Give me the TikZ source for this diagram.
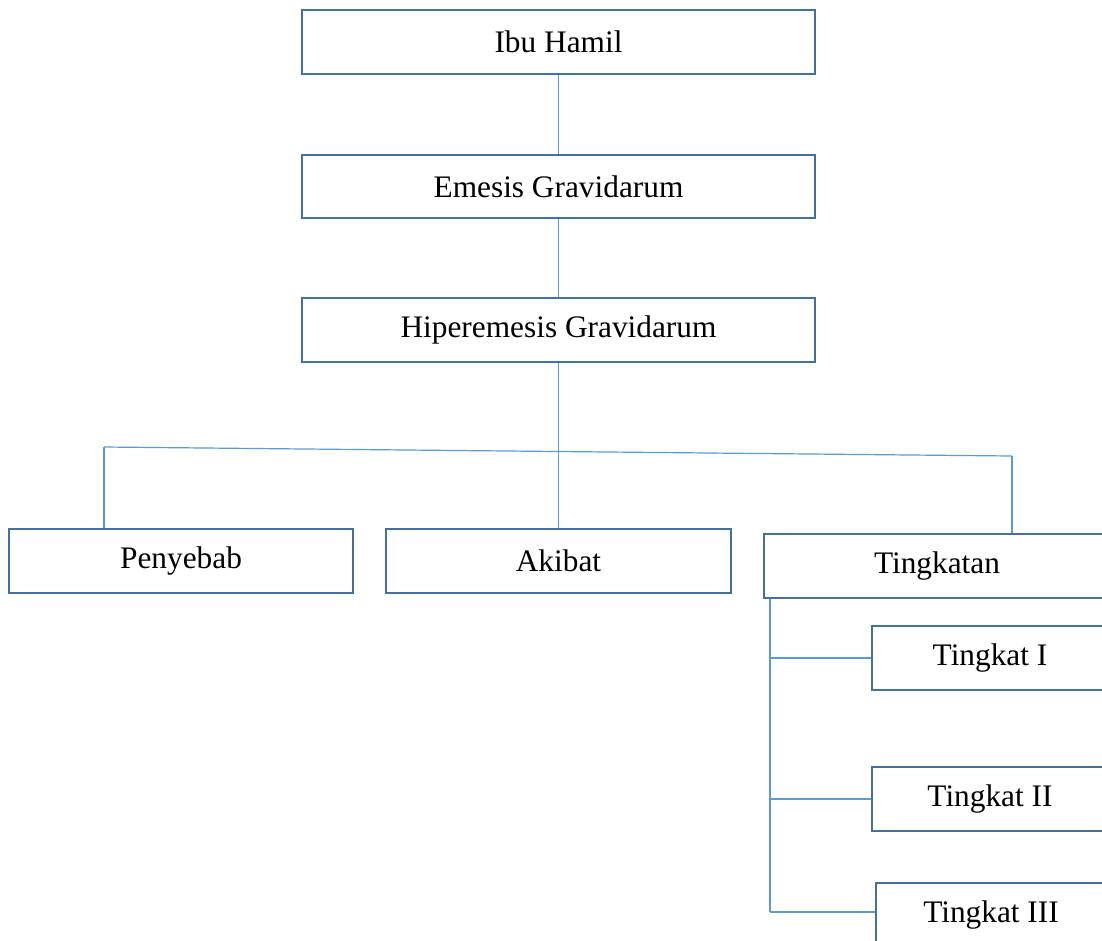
\documentclass[tikz,border=0pt]{standalone}
\usepackage{fontspec}
\setmainfont{Liberation Serif}
\definecolor{boxblue}{HTML}{41719C}
\definecolor{linkblue}{HTML}{5B9BD5}
\begin{document}
\begin{tikzpicture}[x=0.75pt,y=-0.75pt,
  box/.style={draw=boxblue,line width=1.8pt,fill=white,inner sep=0pt,
    minimum height=48pt,font=\fontsize{23.5}{28}\selectfont},
  conn/.style={draw=linkblue,line width=0.9pt}]
\useasboundingbox (0,0) rectangle (1102,940);
\clip (0,0) rectangle (1102,940);
\fill[white] (0,0) rectangle (1102,940);
\coordinate (jl) at (104,447);
\coordinate (jr) at (1012,456);
\coordinate (jm) at (558.5,450.5);
\coordinate (tv) at (770,912);
\node[box,minimum width=384.75pt] (ibu) at (558.5,42) {Ibu Hamil};
\node[box,minimum width=384.75pt,minimum height=47.25pt] (eme) at (558.5,186.5) {Emesis Gravidarum};
\node[box,minimum width=384.75pt] (hip) at (558.5,330) {Hiperemesis Gravidarum};
\node[box,minimum width=258pt] (pen) at (181,561) {Penyebab};
\node[box,minimum width=258.75pt] (aki) at (558.5,561) {Akibat};
\node[box,minimum width=259.5pt] (tgk) at (937,566) {Tingkatan};
\node[box,minimum width=177pt] (t1) at (990,658) {Tingkat I};
\node[box,minimum width=177pt] (t2) at (990,799) {Tingkat II};
\node[box,minimum width=172.5pt] (t3) at (991,915) {Tingkat III};
\coordinate (t3in) at (t3.west |- tv);
\draw[conn] (ibu.south) -- (eme.north);
\draw[conn] (eme.south) -- (hip.north);
\draw[conn] (hip.south) -- (jm);
\draw[conn] (jl) -- (jr);
\draw[conn] (jl) -- (jl |- pen.north);
\draw[conn] (jm) -- (aki.north);
\draw[conn] (jr) -- (jr |- tgk.north);
\draw[conn] (tgk.south -| tv) -- (tv);
\draw[conn] (t1.west -| tv) -- (t1.west);
\draw[conn] (t2.west -| tv) -- (t2.west);
\draw[conn] (tv) -- (t3in);
\end{tikzpicture}
\end{document}
